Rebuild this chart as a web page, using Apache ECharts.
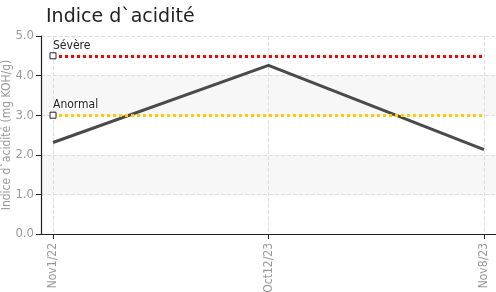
<!DOCTYPE html>
<html>
<head>
<meta charset="utf-8">
<script src="https://cdn.jsdelivr.net/npm/echarts@6/dist/echarts.min.js"></script>
<style>
  html, body { margin: 0; padding: 0; background: #fff; }
  #chart { width: 496px; height: 292px; }
</style>
</head>
<body>
<div id="chart"></div>
<script>
const dates = ['Nov1/22', 'Oct12/23', 'Nov8/23'];
const acidValues = [2.31, 4.26, 2.13];
const limitNames = ['Sévère', 'Anormal'];
const limitValues = [4.5, 3.0];
const limitColors = ['#ff0000', '#ffcc00'];
const yTicks = ['0.0', '1.0', '2.0', '3.0', '4.0', '5.0'];

const font = "'Liberation Sans Narrow', 'DejaVu Sans Condensed', 'Roboto', sans-serif";

const chart = echarts.init(document.getElementById('chart'));

const option = {
  animation: false,
  title: {
    text: 'Indice d`acidité',
    left: 41,
    top: 3,
    textStyle: { fontSize: 19, fontWeight: 'normal', color: '#222', fontFamily: 'DejaVu Sans' }
  },
  grid: [
    // grille de fond : axe Y, bandes, lignes horizontales
    { left: 41, right: 0, top: 36, bottom: 58, outerBoundsMode: 'none' },
    // grille des données
    { left: 53, right: 12, top: 36, bottom: 58, outerBoundsMode: 'none' }
  ],
  xAxis: [
    {
      type: 'value', gridIndex: 0, min: 0, max: 1,
      axisLine: { show: true, lineStyle: { color: '#222', width: 1.2 } },
      axisTick: { show: false }, axisLabel: { show: false }, splitLine: { show: false }
    },
    {
      type: 'category', gridIndex: 1, data: dates, boundaryGap: false,
      axisLine: { show: false },
      axisTick: { show: true, length: 5, lineStyle: { color: '#222' } },
      axisLabel: { rotate: 90, color: '#999', fontSize: 12, margin: 9, fontFamily: font },
      splitLine: { show: true, lineStyle: { color: '#ddd', type: 'dashed' } }
    }
  ],
  yAxis: [
    {
      type: 'value', gridIndex: 0, min: 0, max: 5, interval: 1,
      name: 'Indice d`acidité (mg KOH/g)',
      nameLocation: 'middle', nameGap: 28, nameMoveOverlap: false,
      nameTextStyle: { color: '#999', fontSize: 12, fontFamily: font },
      axisLine: { show: true, lineStyle: { color: '#222', width: 1.2 } },
      axisTick: { show: true, length: 5, lineStyle: { color: '#222' } },
      axisLabel: { color: '#999', fontSize: 13, margin: 7, fontFamily: font,
        formatter: v => yTicks[Math.round(v)] },
      splitLine: { show: true, lineStyle: { color: '#ddd', type: 'dashed' } },
      splitArea: { show: true, areaStyle: { color: ['#ffffff', '#f7f7f7'] } }
    },
    {
      type: 'value', gridIndex: 1, min: 0, max: 5, interval: 1, show: false
    }
  ],
  series: [
    {
      name: 'acidité',
      type: 'line',
      xAxisIndex: 1,
      yAxisIndex: 1,
      data: acidValues,
      symbol: 'none',
      lineStyle: { color: '#4a4a4a', width: 3 },
      markLine: {
        silent: true,
        symbol: 'none',
        data: limitValues.map((v, i) => ({
          yAxis: v,
          name: limitNames[i],
          lineStyle: { color: limitColors[i], type: 'dotted', width: 3 },
          label: {
            show: true, position: 'insideStartTop', formatter: '{b}',
            color: '#222', fontSize: 12, fontFamily: font, distance: [0, 4],
            textBorderColor: '#fff', textBorderWidth: 2
          }
        }))
      },
      // petits carrés au début des seuils
      markPoint: {
        silent: true,
        symbol: 'rect',
        symbolSize: 6,
        itemStyle: { color: '#fff', borderColor: '#222', borderWidth: 1 },
        label: { show: false },
        data: limitValues.map(v => ({ coord: [0, v] }))
      }
    }
  ]
};

chart.setOption(option);
</script>
</body>
</html>
